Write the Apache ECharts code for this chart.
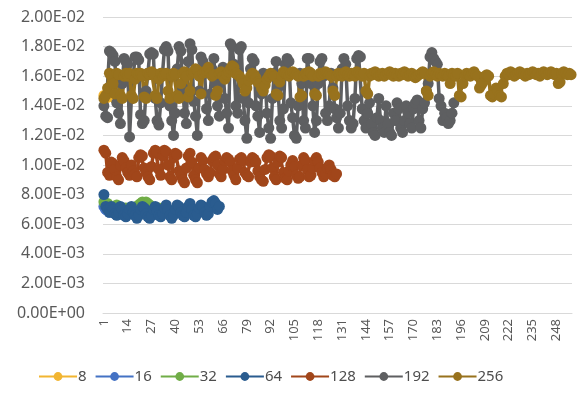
<!DOCTYPE html>
<html>
<head>
<meta charset="utf-8">
<style>
  html, body { margin: 0; padding: 0; background: #ffffff; }
  #chart { width: 583px; height: 397px; }
</style>
<script src="https://cdn.jsdelivr.net/npm/echarts@6/dist/echarts.min.js"></script>
</head>
<body>
<div id="chart"></div>
<script>
// Run index 1..256 along the category axis
const categories = [];
for (let i = 1; i <= 256; i++) categories.push(String(i));

const seriesNames = ['8', '16', '32', '64', '128', '192', '256'];
const seriesColors = ['#F2B531', '#4472C4', '#70AD47', '#2A5C8F', '#A1461A', '#5E5F61', '#98721D'];

const s8 = [0.0147, 0.0145, 0.0146, 0.0148, 0.0147, 0.0146, 0.0145, 0.0147];

const s16 = [0.0072, 0.0070, 0.0069, 0.0068, 0.0070, 0.0069, 0.0068, 0.0070,
  0.0069, 0.0068, 0.0067, 0.0069, 0.0068, 0.0067, 0.0069, 0.0070];

const s32 = [0.0075, 0.0073, 0.0074, 0.0072, 0.0071, 0.0070, 0.0072, 0.0073,
  0.0071, 0.0070, 0.0069, 0.0070, 0.0071, 0.0070, 0.0069, 0.0070,
  0.0071, 0.0070, 0.0072, 0.0073, 0.0074, 0.0075, 0.0074, 0.0075,
  0.0074, 0.0073, 0.0071, 0.0070, 0.0069, 0.0070, 0.0071, 0.0070];

const s64 = [0.0080, 0.0072, 0.0070, 0.0068, 0.0072, 0.0070, 0.0067, 0.0066, 0.0068, 0.0072,
  0.0070, 0.0066, 0.0065, 0.0067, 0.0070, 0.0072, 0.0068, 0.0066, 0.0064, 0.0066,
  0.0070, 0.0072, 0.0071, 0.0067, 0.0065, 0.0064, 0.0066, 0.0070, 0.0072, 0.0069,
  0.0066, 0.0065, 0.0067, 0.0071, 0.0073, 0.0070, 0.0066, 0.0064, 0.0066, 0.0070,
  0.0073, 0.0072, 0.0068, 0.0066, 0.0065, 0.0068, 0.0072, 0.0074, 0.0070, 0.0066,
  0.0065, 0.0067, 0.0071, 0.0073, 0.0072, 0.0068, 0.0066, 0.0067, 0.0072, 0.0075,
  0.0076, 0.0074, 0.0070, 0.0072];

const s128 = [0.0110, 0.0108, 0.0095, 0.0093, 0.0102, 0.0101, 0.0097, 0.0092, 0.0090, 0.0100,
  0.0105, 0.0103, 0.0098, 0.0095, 0.0093, 0.0100, 0.0096, 0.0094, 0.0092, 0.0105,
  0.0107, 0.0106, 0.0098, 0.0095, 0.0092, 0.0090, 0.0099, 0.0108, 0.0110, 0.0109,
  0.0097, 0.0093, 0.0106, 0.0110, 0.0109, 0.0100, 0.0092, 0.0090, 0.0105, 0.0108,
  0.0107, 0.0096, 0.0093, 0.0090, 0.0088, 0.0098, 0.0106, 0.0108, 0.0102, 0.0093,
  0.0090, 0.0088, 0.0098, 0.0105, 0.0103, 0.0097, 0.0094, 0.0092, 0.0095, 0.0103,
  0.0105, 0.0106, 0.0100, 0.0094, 0.0092, 0.0097, 0.0103, 0.0105, 0.0104, 0.0102,
  0.0096, 0.0093, 0.0090, 0.0098, 0.0104, 0.0105, 0.0103, 0.0095, 0.0093, 0.0092,
  0.0102, 0.0105, 0.0104, 0.0102, 0.0096, 0.0092, 0.0090, 0.0089, 0.0097, 0.0105,
  0.0107, 0.0106, 0.0098, 0.0092, 0.0090, 0.0102, 0.0106, 0.0105, 0.0095, 0.0091,
  0.0090, 0.0096, 0.0100, 0.0103, 0.0099, 0.0093, 0.0091, 0.0092, 0.0100, 0.0105,
  0.0103, 0.0097, 0.0092, 0.0093, 0.0098, 0.0103, 0.0105, 0.0102, 0.0098, 0.0095,
  0.0092, 0.0094, 0.0098, 0.0100, 0.0097, 0.0093, 0.0092, 0.0094];

const s192 = [0.0140, 0.0133, 0.0132, 0.0177, 0.0176, 0.0174, 0.0170, 0.0142, 0.0135, 0.0128,
  0.0155, 0.0172, 0.0170, 0.0168, 0.0119, 0.0145, 0.0160, 0.0173, 0.0173, 0.0171,
  0.0134, 0.0128, 0.0130, 0.0150, 0.0162, 0.0175, 0.0176, 0.0175, 0.0145, 0.0130,
  0.0127, 0.0142, 0.0162, 0.0178, 0.0180, 0.0177, 0.0140, 0.0130, 0.0120, 0.0135,
  0.0165, 0.0180, 0.0177, 0.0152, 0.0135, 0.0128, 0.0170, 0.0182, 0.0178, 0.0143,
  0.0133, 0.0120, 0.0150, 0.0173, 0.0170, 0.0162, 0.0138, 0.0130, 0.0148, 0.0165,
  0.0172, 0.0155, 0.0140, 0.0133, 0.0160, 0.0166, 0.0145, 0.0135, 0.0125, 0.0182,
  0.0180, 0.0168, 0.0140, 0.0135, 0.0178, 0.0180, 0.0145, 0.0130, 0.0118, 0.0142,
  0.0165, 0.0172, 0.0170, 0.0140, 0.0133, 0.0122, 0.0148, 0.0162, 0.0158, 0.0135,
  0.0125, 0.0118, 0.0145, 0.0162, 0.0170, 0.0152, 0.0130, 0.0125, 0.0138, 0.0168,
  0.0172, 0.0170, 0.0142, 0.0132, 0.0120, 0.0118, 0.0140, 0.0162, 0.0155, 0.0130,
  0.0125, 0.0172, 0.0172, 0.0155, 0.0140, 0.0122, 0.0130, 0.0155, 0.0170, 0.0172,
  0.0160, 0.0135, 0.0130, 0.0140, 0.0162, 0.0152, 0.0138, 0.0132, 0.0125, 0.0135,
  0.0165, 0.0172, 0.0168, 0.0140, 0.0130, 0.0125, 0.0128, 0.0145, 0.0172, 0.0174,
  0.0173, 0.0138, 0.0130, 0.0125, 0.0135, 0.0142, 0.0128, 0.0122, 0.0120, 0.0132,
  0.0145, 0.0130, 0.0125, 0.0122, 0.0140, 0.0128, 0.0122, 0.0120, 0.0135, 0.0130,
  0.0142, 0.0138, 0.0125, 0.0122, 0.0130, 0.0140, 0.0135, 0.0128, 0.0125, 0.0138,
  0.0142, 0.0144, 0.0130, 0.0125, 0.0138, 0.0142, 0.0150, 0.0155, 0.0173, 0.0176,
  0.0172, 0.0170, 0.0168, 0.0145, 0.0140, 0.0130, 0.0135, 0.0132, 0.0128, 0.0130,
  0.0135, 0.0142];

const s256 = [0.0145, 0.0147, 0.0152, 0.0162, 0.0160, 0.0155, 0.0148, 0.0162, 0.0161, 0.0147,
  0.0145, 0.0160, 0.0162, 0.0160, 0.0162, 0.0147, 0.0145, 0.0158, 0.0162, 0.0161,
  0.0162, 0.0160, 0.0146, 0.0145, 0.0162, 0.0161, 0.0163, 0.0162, 0.0147, 0.0145,
  0.0158, 0.0162, 0.0160, 0.0161, 0.0162, 0.0150, 0.0145, 0.0160, 0.0162, 0.0161,
  0.0147, 0.0145, 0.0155, 0.0162, 0.0163, 0.0160, 0.0146, 0.0150, 0.0162, 0.0163,
  0.0165, 0.0164, 0.0160, 0.0148, 0.0162, 0.0163, 0.0164, 0.0166, 0.0162, 0.0160,
  0.0161, 0.0147, 0.0150, 0.0162, 0.0163, 0.0160, 0.0158, 0.0161, 0.0163, 0.0165,
  0.0167, 0.0166, 0.0162, 0.0161, 0.0160, 0.0158, 0.0155, 0.0150, 0.0152, 0.0157,
  0.0160, 0.0162, 0.0161, 0.0159, 0.0156, 0.0155, 0.0152, 0.0150, 0.0154, 0.0158,
  0.0160, 0.0162, 0.0161, 0.0160, 0.0148, 0.0147, 0.0156, 0.0160, 0.0163, 0.0162,
  0.0161, 0.0160, 0.0162, 0.0163, 0.0162, 0.0161, 0.0160, 0.0146, 0.0147, 0.0160,
  0.0162, 0.0161, 0.0163, 0.0162, 0.0160, 0.0148, 0.0147, 0.0160, 0.0162, 0.0161,
  0.0162, 0.0163, 0.0162, 0.0161, 0.0160, 0.0150, 0.0147, 0.0160, 0.0162, 0.0161,
  0.0160, 0.0162, 0.0163, 0.0161, 0.0160, 0.0162, 0.0161, 0.0160, 0.0163, 0.0162,
  0.0161, 0.0160, 0.0162, 0.0150, 0.0148, 0.0160, 0.0162, 0.0161, 0.0163, 0.0162,
  0.0160, 0.0161, 0.0162, 0.0160, 0.0161, 0.0162, 0.0163, 0.0161, 0.0160, 0.0162,
  0.0161, 0.0160, 0.0162, 0.0161, 0.0163, 0.0162, 0.0160, 0.0161, 0.0162, 0.0160,
  0.0159, 0.0160, 0.0161, 0.0162, 0.0163, 0.0162, 0.0150, 0.0147, 0.0160, 0.0162,
  0.0163, 0.0161, 0.0160, 0.0162, 0.0161, 0.0160, 0.0162, 0.0161, 0.0160, 0.0155,
  0.0162, 0.0161, 0.0160, 0.0162, 0.0147, 0.0146, 0.0155, 0.0160, 0.0162, 0.0161,
  0.0160, 0.0162, 0.0163, 0.0161, 0.0160, 0.0152, 0.0154, 0.0156, 0.0160, 0.0161,
  0.0160, 0.0147, 0.0146, 0.0148, 0.0152, 0.0150, 0.0147, 0.0146, 0.0155, 0.0160,
  0.0162, 0.0161, 0.0163, 0.0162, 0.0160, 0.0161, 0.0162, 0.0163, 0.0162, 0.0161,
  0.0160, 0.0162, 0.0161, 0.0162, 0.0163, 0.0162, 0.0161, 0.0162, 0.0160, 0.0162,
  0.0163, 0.0162, 0.0161, 0.0162, 0.0163, 0.0162, 0.0161, 0.0162, 0.0155, 0.0156,
  0.0162, 0.0163, 0.0162, 0.0161, 0.0162, 0.0161];

const seriesData = [s8, s16, s32, s64, s128, s192, s256];

// Scientific notation with a two-digit exponent, e.g. 1.80E-02
function sci(v) {
  const parts = Number(v).toExponential(2).split('e');
  const exp = parseInt(parts[1], 10);
  const sign = exp < 0 ? '-' : '+';
  const digits = String(Math.abs(exp)).padStart(2, '0');
  return parts[0] + 'E' + sign + digits;
}

const FONT = 'Noto Sans';
const chart = echarts.init(document.getElementById('chart'), null, { renderer: 'canvas' });

chart.setOption({
  backgroundColor: '#ffffff',
  animation: false,
  textStyle: { fontFamily: FONT },
  grid: { left: 103, right: 11, top: 17, bottom: 84, containLabel: false },
  legend: {
    bottom: 8,
    left: 33,
    itemWidth: 38,
    itemHeight: 11,
    itemGap: 8,
    data: seriesNames,
    textStyle: { fontFamily: FONT, fontSize: 15, color: '#4d4d4d', padding: [0, 0, 0, -4] }
  },
  xAxis: {
    type: 'category',
    data: categories,
    boundaryGap: true,
    axisLine: { show: true, lineStyle: { color: '#d9d9d9', width: 1 } },
    axisTick: { show: false },
    axisLabel: {
      interval: 12,
      rotate: 90,
      margin: 6,
      fontFamily: FONT,
      fontSize: 13,
      color: '#595959'
    },
    splitLine: { show: false }
  },
  yAxis: {
    type: 'value',
    min: 0,
    max: 0.02,
    interval: 0.002,
    axisLine: { show: false },
    axisTick: { show: false },
    axisLabel: {
      formatter: sci,
      margin: 18,
      fontFamily: FONT,
      fontSize: 16,
      color: '#595959'
    },
    splitLine: { show: true, lineStyle: { color: '#d9d9d9', width: 1 } }
  },
  series: seriesNames.map((name, i) => ({
    name: name,
    type: 'line',
    data: seriesData[i],
    color: seriesColors[i],
    symbol: 'circle',
    symbolSize: 11,
    showAllSymbol: true,
    lineStyle: { width: 3.5, color: seriesColors[i] },
    itemStyle: { color: seriesColors[i] },
    emphasis: { disabled: true }
  }))
});
</script>
</body>
</html>
